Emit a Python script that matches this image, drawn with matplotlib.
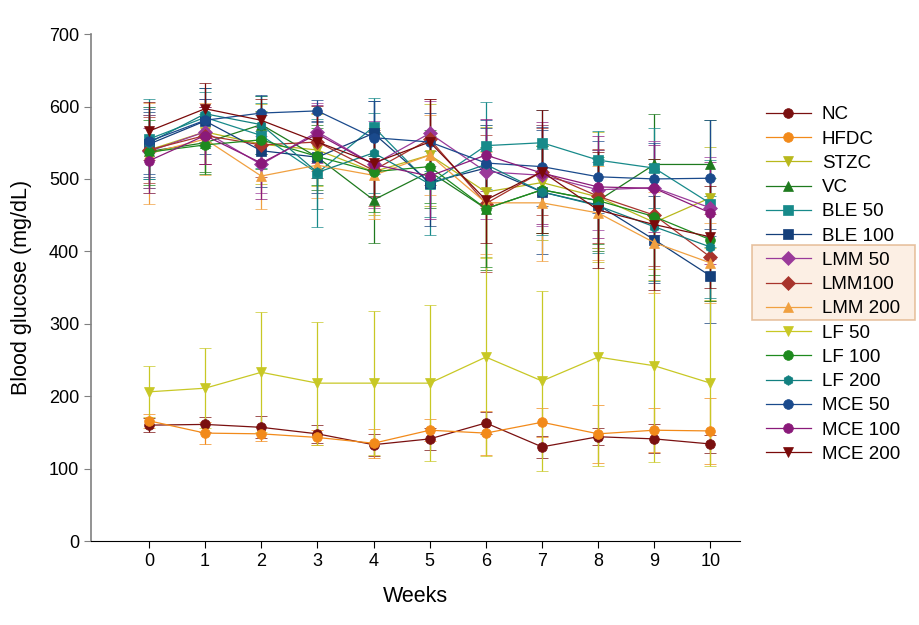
import numpy as np
import matplotlib
matplotlib.use("Agg")
import matplotlib.pyplot as plt
from matplotlib.patches import Rectangle

plt.rcParams['font.family'] = ['Liberation Sans', 'DejaVu Sans']

weeks = np.arange(0, 11)

# mean values per group (mg/dL)
NC = [160, 161, 157, 148, 133, 141, 163, 130, 144, 141, 134]
HFDC = [166, 149, 148, 143, 135, 153, 149, 164, 148, 153, 152]
STZC = [540, 565, 548, 540, 510, 533, 482, 495, 475, 440, 474]
VC = [538, 550, 575, 530, 471, 510, 459, 485, 470, 520, 520]
BLE50 = [555, 585, 560, 508, 572, 493, 546, 550, 526, 515, 466]
BLE100 = [548, 580, 539, 530, 563, 495, 515, 482, 464, 416, 366]
LMM50 = [538, 565, 520, 565, 520, 563, 510, 505, 485, 488, 460]
LMM100 = [540, 560, 547, 551, 512, 555, 466, 510, 476, 450, 392]
LMM200 = [535, 555, 504, 519, 505, 533, 467, 467, 453, 412, 384]
LF50 = [206, 211, 233, 218, 218, 218, 254, 221, 254, 242, 218]
LF100 = [537, 547, 554, 531, 510, 517, 459, 485, 470, 448, 416]
LF200 = [550, 590, 575, 509, 536, 493, 520, 482, 463, 434, 406]
MCE50 = [552, 581, 591, 594, 557, 551, 522, 517, 503, 500, 501]
MCE100 = [525, 560, 522, 562, 520, 504, 533, 508, 489, 487, 453]
MCE200 = [566, 597, 581, 551, 522, 551, 471, 510, 457, 437, 420]

# error bars
NC_err = [10, 10, 15, 12, 15, 15, 15, 15, 12, 20, 12]
HFDC_err = [10, 15, 10, 10, 20, 15, 30, 20, 40, 30, 45]
STZC_err = [60, 45, 55, 50, 60, 70, 90, 80, 90, 80, 70]
VC_err = [50, 40, 40, 45, 60, 50, 85, 60, 70, 70, 62]
BLE50_err = [55, 40, 45, 75, 40, 70, 60, 45, 40, 55, 60]
BLE100_err = [45, 45, 50, 50, 45, 60, 55, 85, 60, 60, 65]
LMM50_err = [50, 45, 40, 40, 60, 45, 65, 70, 55, 65, 70]
LMM100_err = [45, 40, 45, 40, 50, 55, 95, 60, 65, 70, 60]
LMM200_err = [70, 50, 45, 45, 60, 55, 70, 80, 65, 70, 55]
LF50_err = [35, 55, 83, 85, 99, 108, 137, 124, 151, 133, 115]
LF100_err = [45, 40, 40, 40, 55, 50, 80, 60, 60, 80, 85]
LF200_err = [50, 30, 40, 50, 55, 45, 55, 60, 65, 75, 70]
MCE50_err = [45, 30, 25, 15, 50, 40, 60, 55, 50, 50, 80]
MCE100_err = [45, 40, 50, 40, 45, 60, 50, 70, 70, 60, 70]
MCE200_err = [40, 35, 30, 50, 45, 60, 60, 85, 80, 90, 70]

names = ['NC', 'HFDC', 'STZC', 'VC', 'BLE 50', 'BLE 100', 'LMM 50', 'LMM100',
         'LMM 200', 'LF 50', 'LF 100', 'LF 200', 'MCE 50', 'MCE 100', 'MCE 200']
means = [NC, HFDC, STZC, VC, BLE50, BLE100, LMM50, LMM100, LMM200, LF50,
         LF100, LF200, MCE50, MCE100, MCE200]
errs = [NC_err, HFDC_err, STZC_err, VC_err, BLE50_err, BLE100_err, LMM50_err,
        LMM100_err, LMM200_err, LF50_err, LF100_err, LF200_err, MCE50_err,
        MCE100_err, MCE200_err]
colors = ['#7a1010', '#f28a1a', '#b8b81c', '#1e7a1e', '#178a8a', '#143f7a',
          '#9a3a9a', '#a8342c', '#f0a040', '#c8c825', '#1e8a1e', '#128080',
          '#1a4a8c', '#8a1a7a', '#7a0a0a']
markers = ['o', 'o', 'v', '^', 's', 's', 'D', 'D', '^', 'v', 'o', 'h', 'o', 'o', 'v']

fig = plt.figure(figsize=(9.2, 6.25), dpi=100)
ax = fig.add_axes([0.099, 0.1344, 0.705, 0.811])

handles = []
for m, e, c, mk, n in zip(means, errs, colors, markers, names):
    cont = ax.errorbar(weeks, m, yerr=e, color=c, marker=mk, markersize=7,
                       linewidth=0.9, elinewidth=0.9, capsize=4, capthick=0.9,
                       ecolor=c, label=n, markeredgewidth=0.5)
    handles.append(cont[0])

ax.set_xlim(-1.03, 10.52)
ax.set_ylim(0, 700)
ax.set_xticks(weeks)
ax.set_yticks(np.arange(0, 701, 100))
ax.spines['top'].set_visible(False)
ax.spines['right'].set_visible(False)
ax.spines['left'].set_color('#808080')
ax.spines['left'].set_linewidth(1.2)
ax.spines['bottom'].set_color('black')
ax.tick_params(axis='both', direction='out', length=5, labelsize=13)
ax.tick_params(axis='y', colors='#808080', labelcolor='black')
ax.set_xlabel('Weeks', fontsize=15.5, labelpad=12)
ax.set_ylabel('Blood glucose (mg/dL)', fontsize=15.5, labelpad=12)

leg = fig.legend(handles, names, loc='upper left', bbox_to_anchor=(0.822, 0.845),
                 frameon=False, fontsize=13.5, handlelength=2.4,
                 labelspacing=0.38, borderpad=0, handletextpad=0.6)

# highlight box around LMM entries
fig.canvas.draw()
r = fig.canvas.get_renderer()
t0 = leg.get_texts()[6].get_window_extent(r)
t2 = leg.get_texts()[8].get_window_extent(r)
c0 = (t0.y0 + t0.y1) / 2
c2 = (t2.y0 + t2.y1) / 2
x0 = 752
y0 = c2 - 11
y1 = c0 + 15
box = Rectangle((x0, y0), 915 - x0, y1 - y0, transform=None,
                facecolor='#fbeadb', edgecolor='#e0b084', linewidth=1.2,
                alpha=0.75, zorder=0)
fig.patches.append(box)

fig.savefig('out.png', dpi=100)
